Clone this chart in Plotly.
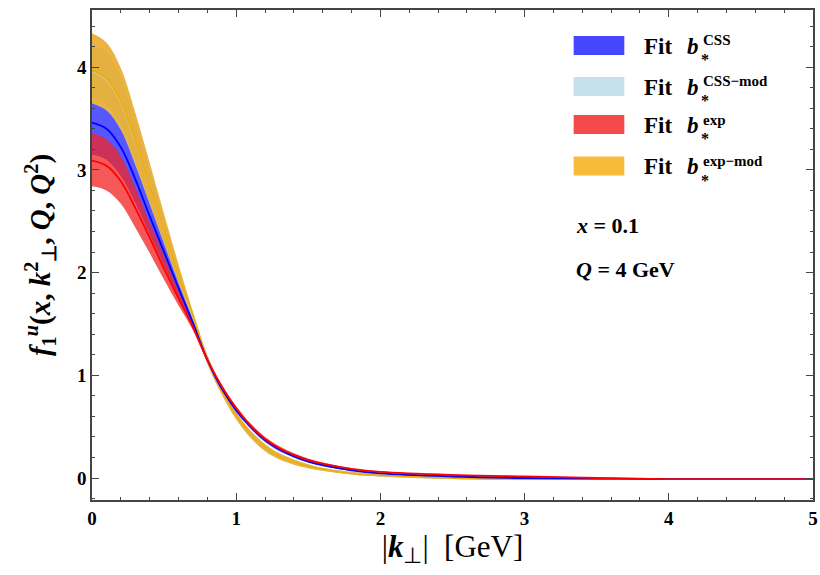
import plotly.graph_objects as go

# ---------------- data ----------------
kperp = [0, 0.1, 0.2, 0.3, 0.4, 0.5, 0.6, 0.7, 0.8, 0.9, 1.0, 1.1, 1.2, 1.3, 1.4,
         1.5, 1.6, 1.8, 2.0, 2.5, 3.0, 3.5, 4.0, 5.0]

# Fit b*^CSS (blue)
css_up  = [3.65, 3.58, 3.39, 3.05, 2.67, 2.28, 1.90, 1.54, 1.17, 0.89, 0.68, 0.51, 0.38, 0.29, 0.22,
           0.17, 0.13, 0.08, 0.05, 0.02, 0.005, 0.0, -0.01, -0.01]
css_mid = [3.46, 3.40, 3.22, 2.91, 2.55, 2.20, 1.85, 1.51, 1.15, 0.87, 0.66, 0.50, 0.37, 0.28, 0.21,
           0.16, 0.125, 0.075, 0.045, 0.015, 0.0, -0.005, -0.01, -0.01]
css_lo  = [3.15, 3.10, 2.94, 2.68, 2.37, 2.07, 1.76, 1.48, 1.13, 0.85, 0.64, 0.48, 0.35, 0.26, 0.20,
           0.15, 0.115, 0.07, 0.04, 0.01, -0.005, -0.01, -0.015, -0.015]

# Fit b*^CSS-mod (light blue)
cssm_up  = [4.22, 4.14, 3.89, 3.48, 3.00, 2.53, 2.05, 1.61, 1.19, 0.88, 0.64, 0.46, 0.33, 0.24, 0.18,
            0.135, 0.10, 0.06, 0.035, 0.01, 0.0, -0.005, -0.01, -0.01]
cssm_mid = [3.96, 3.88, 3.66, 3.28, 2.85, 2.42, 1.98, 1.57, 1.15, 0.85, 0.61, 0.43, 0.30, 0.21, 0.155,
            0.115, 0.085, 0.045, 0.025, 0.0, -0.01, -0.01, -0.01, -0.01]
cssm_lo  = [3.70, 3.63, 3.43, 3.09, 2.70, 2.30, 1.91, 1.54, 1.12, 0.82, 0.58, 0.40, 0.27, 0.19, 0.135,
            0.095, 0.07, 0.035, 0.015, -0.01, -0.015, -0.015, -0.015, -0.015]

# Fit b*^exp (red)
exp_up  = [3.36, 3.30, 3.13, 2.83, 2.49, 2.16, 1.82, 1.50, 1.17, 0.91, 0.70, 0.53, 0.40, 0.31, 0.24,
           0.19, 0.15, 0.095, 0.065, 0.035, 0.02, 0.005, -0.005, -0.01]
exp_mid = [3.09, 3.04, 2.89, 2.63, 2.34, 2.04, 1.75, 1.47, 1.15, 0.89, 0.68, 0.51, 0.38, 0.29, 0.225,
           0.175, 0.14, 0.09, 0.06, 0.03, 0.015, 0.0, -0.01, -0.01]
exp_lo  = [2.84, 2.80, 2.67, 2.44, 2.19, 1.93, 1.68, 1.44, 1.13, 0.87, 0.66, 0.49, 0.36, 0.28, 0.21,
           0.165, 0.13, 0.08, 0.055, 0.025, 0.01, -0.005, -0.015, -0.015]

# Fit b*^exp-mod (orange)
expm_up  = [4.33, 4.24, 3.99, 3.56, 3.07, 2.57, 2.08, 1.62, 1.20, 0.89, 0.64, 0.46, 0.33, 0.24, 0.18,
            0.135, 0.10, 0.06, 0.035, 0.01, 0.0, -0.005, -0.01, -0.01]
expm_mid = [3.97, 3.89, 3.67, 3.29, 2.85, 2.42, 1.98, 1.58, 1.15, 0.85, 0.61, 0.43, 0.30, 0.21, 0.155,
            0.115, 0.085, 0.045, 0.025, 0.0, -0.01, -0.01, -0.01, -0.01]
expm_lo  = [3.65, 3.58, 3.39, 3.05, 2.67, 2.28, 1.90, 1.54, 1.11, 0.81, 0.57, 0.39, 0.26, 0.18, 0.13,
            0.095, 0.07, 0.035, 0.015, -0.01, -0.015, -0.015, -0.015, -0.015]

x_ticks = [0, 1, 2, 3, 4, 5]
y_ticks = [0, 1, 2, 3, 4]

# ---------------- styles ----------------
SERIF = "Liberation Serif"
series = [
    # (upper, mid, lower, fill, line)
    (cssm_up, cssm_mid, cssm_lo, "rgba(173,216,230,0.75)", "rgb(175,215,228)"),
    (expm_up, expm_mid, expm_lo, "rgba(232,170,40,0.88)", "rgb(245,170,0)"),
    (css_up, css_mid, css_lo, "rgba(50,50,255,0.82)", "rgb(0,0,255)"),
    (exp_up, exp_mid, exp_lo, "rgba(242,35,35,0.76)", "rgb(255,0,0)"),
]

fig = go.Figure()
for up, mid, lo, fcol, lcol in series:
    fig.add_trace(go.Scatter(x=kperp, y=lo, mode="lines", line=dict(width=0, shape="spline"),
                             showlegend=False, hoverinfo="skip"))
    fig.add_trace(go.Scatter(x=kperp, y=up, mode="lines", line=dict(width=0, shape="spline"),
                             fill="tonexty", fillcolor=fcol, showlegend=False, hoverinfo="skip"))
for up, mid, lo, fcol, lcol in series:
    fig.add_trace(go.Scatter(x=kperp, y=mid, mode="lines", line=dict(width=1.8, color=lcol, shape="spline"),
                             showlegend=False))

# ---------------- layout ----------------
L, R, T, B = 92, 2, 10, 75
W, H = 820, 575
PW, PH = W - L - R, H - T - B

def px(x):
    return (x - L) / PW

def py(y):
    return (H - B - y) / PH

axis_common = dict(showgrid=False, zeroline=False, showline=True, linecolor="#444", linewidth=1.5,
                   mirror="ticks", ticks="inside", ticklen=7, tickwidth=1.3, tickcolor="#444",
                   ticklabeloverflow="allow",
                   tickfont=dict(family=SERIF, size=19, color="black"),
                   minor=dict(ticks="inside", ticklen=3.5, tickwidth=1, tickcolor="#444", dtick=0.2))

fig.update_layout(
    width=W, height=H, margin=dict(l=L, r=R, t=T, b=B),
    paper_bgcolor="white", plot_bgcolor="white",
    xaxis=dict(range=[0, 5], tickvals=x_ticks, ticktext=[f"<b>{v}</b>" for v in x_ticks],
               title=dict(text="|<b><i>k</i></b><sub>⊥</sub>|  [GeV]",
                          font=dict(family=SERIF, size=31, color="black"), standoff=6),
               **axis_common),
    yaxis=dict(range=[-0.214, 4.557], tickvals=y_ticks, ticktext=[f"<b>{v}</b>" for v in y_ticks],
               title=dict(text="<b><i>f</i><sub>1</sub><sup><i>u</i></sup>(<i>x</i>, <i>k</i><sup>2</sup><sub>⊥</sub>, <i>Q</i>, <i>Q</i><sup>2</sup>)</b>",
                          font=dict(family=SERIF, size=29, color="black"), standoff=18),
               **axis_common),
    showlegend=False,
)

# manual legend
legend_items = [
    ("CSS", "rgba(70,70,255,1)", 45.5),
    ("CSS−mod", "rgb(197,226,236)", 86.5),
    ("exp", "rgb(245,74,74)", 124.5),
    ("exp−mod", "rgb(247,186,58)", 166),
]
for sup, col, yc in legend_items:
    fig.add_shape(type="rect", xref="paper", yref="paper",
                  x0=px(577), x1=px(628), y0=py(yc - 9.5), y1=py(yc + 9.5),
                  fillcolor=col, line=dict(width=0))
    fig.add_annotation(xref="paper", yref="paper", x=px(646), y=py(yc + 1), xanchor="left", yanchor="middle",
                       text="<b>Fit</b>", showarrow=False,
                       font=dict(family=SERIF, size=23, color="black"))
    fig.add_annotation(xref="paper", yref="paper", x=px(689), y=py(yc + 1), xanchor="left", yanchor="middle",
                       text="<b><i>b</i></b>", showarrow=False,
                       font=dict(family=SERIF, size=23, color="black"))
    fig.add_annotation(xref="paper", yref="paper", x=px(705), y=py(yc - 5), xanchor="left", yanchor="middle",
                       text=f"<b>{sup}</b>", showarrow=False,
                       font=dict(family=SERIF, size=15, color="black"))
    fig.add_annotation(xref="paper", yref="paper", x=px(703), y=py(yc + 14), xanchor="left", yanchor="middle",
                       text="<b>*</b>", showarrow=False,
                       font=dict(family=SERIF, size=16, color="black"))

fig.add_annotation(xref="paper", yref="paper", x=px(577), y=py(226), xanchor="left", yanchor="middle",
                   text="<b><i>x</i> = 0.1</b>", showarrow=False,
                   font=dict(family=SERIF, size=22, color="black"))
fig.add_annotation(xref="paper", yref="paper", x=px(577), y=py(270), xanchor="left", yanchor="middle",
                   text="<b><i>Q</i> = 4 GeV</b>", showarrow=False,
                   font=dict(family=SERIF, size=22, color="black"))

fig.write_html("out.html")
